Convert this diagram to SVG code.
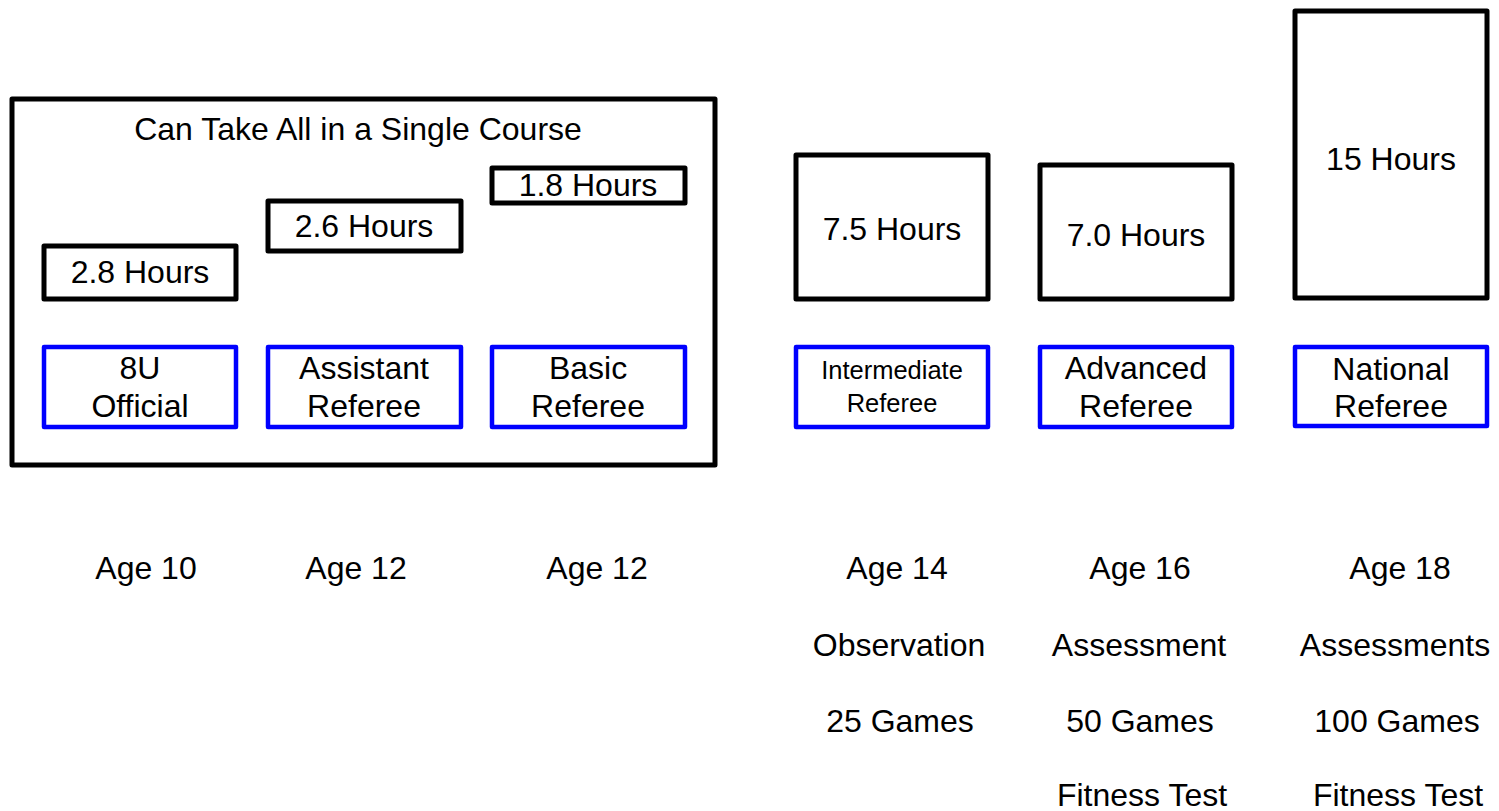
<svg xmlns="http://www.w3.org/2000/svg" width="1499" height="811" viewBox="0 0 1499 811">
<style>
text{font-family:"Liberation Sans",Arial,sans-serif;fill:#000;text-anchor:middle;font-size:32px}
.hr{fill:#fff;stroke:#000;stroke-width:5;stroke-linejoin:round}
.lv{fill:#fff;stroke:#0000ff;stroke-width:4.5;stroke-linejoin:round}
.sm{font-size:25.5px}
</style>
<rect width="1499" height="811" fill="#fff"/>
<g id="single-course">
<rect class="hr" x="12" y="99" width="703" height="366"/>
<text x="358" y="140">Can Take All in a Single Course</text>
</g>
<g id="hours-8u"><rect class="hr" x="44" y="246" width="192" height="53"/><text x="140" y="283">2.8 Hours</text></g>
<g id="hours-assistant"><rect class="hr" x="268" y="201" width="193" height="50"/><text x="364" y="237">2.6 Hours</text></g>
<g id="hours-basic"><rect class="hr" x="492" y="168" width="193" height="35"/><text x="588" y="196">1.8 Hours</text></g>
<g id="hours-intermediate"><rect class="hr" x="796" y="155" width="192" height="144"/><text x="892" y="240">7.5 Hours</text></g>
<g id="hours-advanced"><rect class="hr" x="1040" y="165" width="192" height="134"/><text x="1136" y="246">7.0 Hours</text></g>
<g id="hours-national"><rect class="hr" x="1295" y="11" width="192" height="287"/><text x="1391" y="170">15 Hours</text></g>
<g id="level-8u"><rect class="lv" x="44" y="347" width="192" height="80"/><text x="140" y="379">8U</text><text x="140" y="417">Official</text></g>
<g id="level-assistant"><rect class="lv" x="268" y="347" width="193" height="80"/><text x="364" y="379">Assistant</text><text x="364" y="417">Referee</text></g>
<g id="level-basic"><rect class="lv" x="492" y="347" width="193" height="80"/><text x="588" y="379">Basic</text><text x="588" y="417">Referee</text></g>
<g id="level-intermediate"><rect class="lv" x="796" y="347" width="192" height="80"/><text class="sm" x="892" y="379">Intermediate</text><text class="sm" x="892" y="412">Referee</text></g>
<g id="level-advanced"><rect class="lv" x="1040" y="347" width="192" height="80"/><text x="1136" y="379">Advanced</text><text x="1136" y="417">Referee</text></g>
<g id="level-national"><rect class="lv" x="1295" y="347" width="192" height="79"/><text x="1391" y="380">National</text><text x="1391" y="417">Referee</text></g>
<g id="requirements">
<text x="146" y="579">Age 10</text>
<text x="356" y="579">Age 12</text>
<text x="597" y="579">Age 12</text>
<text x="897" y="579">Age 14</text>
<text x="1140" y="579">Age 16</text>
<text x="1400" y="579">Age 18</text>
<text x="899" y="656">Observation</text>
<text x="1139" y="656">Assessment</text>
<text x="1395" y="656">Assessments</text>
<text x="900" y="732">25 Games</text>
<text x="1140" y="732">50 Games</text>
<text x="1397" y="732">100 Games</text>
<text x="1142" y="806">Fitness Test</text>
<text x="1398" y="806">Fitness Test</text>
</g>
<g id="connectors"></g>
</svg>
